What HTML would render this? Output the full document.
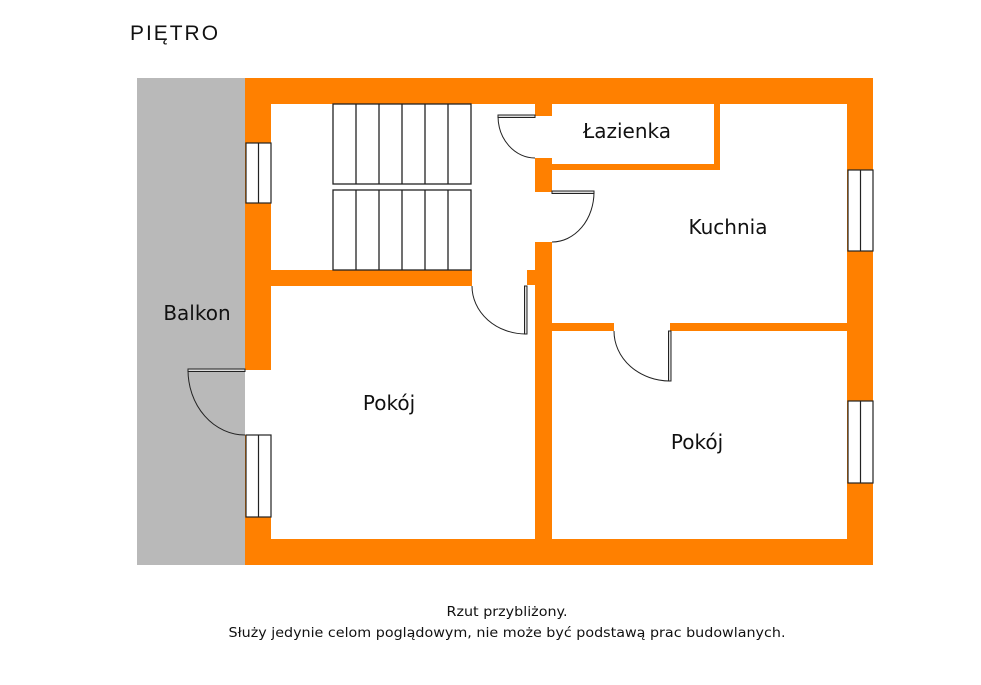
<!DOCTYPE html>
<html><head><meta charset="utf-8"><style>
html,body{margin:0;padding:0;background:#fff;}
svg{display:block;}
text{font-family:"DejaVu Sans","Liberation Sans",sans-serif;fill:#111;}
</style></head><body>
<svg width="981" height="685" viewBox="0 0 981 685" xmlns="http://www.w3.org/2000/svg">
<rect x="0" y="0" width="981" height="685" fill="#fff"/>
<text x="130" y="40" font-size="21" letter-spacing="2" textLength="90" lengthAdjust="spacingAndGlyphs" style="font-family:'Liberation Sans',sans-serif;font-weight:normal" fill="#222">PIĘTRO</text>
<rect x="137" y="78" width="108" height="487" fill="#b9b9b9"/>
<g fill="#ff8000">
<rect x="245" y="78" width="628" height="26"/>
<rect x="245" y="539" width="628" height="26"/>
<rect x="847" y="78" width="26" height="487"/>
<rect x="245" y="78" width="26" height="292"/>
<rect x="245" y="435" width="26" height="130"/>
<rect x="271" y="270" width="201" height="16"/>
<rect x="535" y="104" width="17" height="12"/>
<rect x="535" y="158" width="17" height="34"/>
<rect x="535" y="242" width="17" height="300"/>
<rect x="527" y="270" width="10" height="15"/>
<rect x="552" y="164" width="168" height="6"/>
<rect x="714" y="104" width="6" height="66"/>
<rect x="552" y="323" width="62" height="8"/>
<rect x="670" y="323" width="177" height="8"/>
</g>
<g fill="#fff" stroke="#222" stroke-width="1.2">
<rect x="246" y="143" width="25" height="60"/><line x1="258.5" y1="143" x2="258.5" y2="203"/>
<rect x="246" y="435" width="25" height="82"/><line x1="258.5" y1="435" x2="258.5" y2="517"/>
<rect x="848" y="170" width="25" height="81"/><line x1="860.5" y1="170" x2="860.5" y2="251"/>
<rect x="848" y="401" width="25" height="82"/><line x1="860.5" y1="401" x2="860.5" y2="483"/>
</g>
<g fill="#fff" stroke="#222" stroke-width="1.3">
<rect x="333" y="104" width="138" height="80"/>
<rect x="333" y="190" width="138" height="80"/>
<line x1="356" y1="104" x2="356" y2="184"/><line x1="379" y1="104" x2="379" y2="184"/><line x1="402" y1="104" x2="402" y2="184"/><line x1="425" y1="104" x2="425" y2="184"/><line x1="448" y1="104" x2="448" y2="184"/>
<line x1="356" y1="190" x2="356" y2="270"/><line x1="379" y1="190" x2="379" y2="270"/><line x1="402" y1="190" x2="402" y2="270"/><line x1="425" y1="190" x2="425" y2="270"/><line x1="448" y1="190" x2="448" y2="270"/>
</g>
<g fill="none" stroke="#222" stroke-width="1">
<rect x="498" y="115" width="37" height="2.5" fill="#ddd"/>
<path d="M498 116 A37 42 0 0 0 535 158"/>
<rect x="552" y="191" width="42" height="2.5" fill="#ddd"/>
<path d="M594 192 A42 50 0 0 1 552 242"/>
<rect x="524.5" y="286" width="2.5" height="48" fill="#ddd"/>
<path d="M472 286 A54 48 0 0 0 526 334"/>
<rect x="668.5" y="331" width="2.5" height="50" fill="#ddd"/>
<path d="M614 331 A56 50 0 0 0 670 381"/>
<rect x="188" y="369" width="57" height="2.5" fill="#ddd"/>
<path d="M188 370 A57 65 0 0 0 245 435"/>
</g>
<g font-size="20" text-anchor="middle">
<text x="627" y="138">Łazienka</text>
<text x="728" y="234">Kuchnia</text>
<text x="197" y="320">Balkon</text>
<text x="389" y="410">Pokój</text>
<text x="697" y="449">Pokój</text>
</g>
<g font-size="13" text-anchor="middle">
<text x="507" y="616" textLength="121" lengthAdjust="spacingAndGlyphs">Rzut przybliżony.</text>
<text x="507" y="637" textLength="557" lengthAdjust="spacingAndGlyphs">Służy jedynie celom poglądowym, nie może być podstawą prac budowlanych.</text>
</g>
</svg>
</body></html>
